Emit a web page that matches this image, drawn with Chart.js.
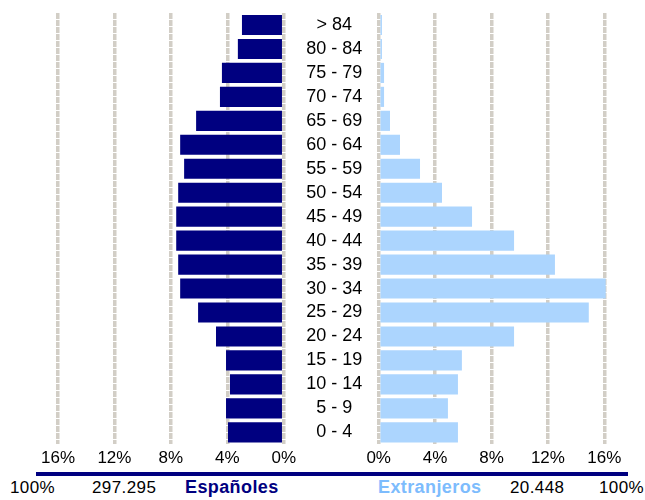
<!DOCTYPE html>
<html>
<head>
<meta charset="utf-8">
<script src="https://cdn.jsdelivr.net/npm/chart.js@4/dist/chart.umd.min.js"></script>
<style>
  html, body { margin: 0; padding: 0; background: #fff; }
  #page { position: relative; width: 645px; height: 500px; overflow: hidden; font-family: "Liberation Sans", Arial, sans-serif; }
  .box { position: absolute; top: 0; height: 470px; }
  #leftBox { left: 0; width: 300px; }
  #rightBox { left: 290px; width: 355px; }
  #rule { position: absolute; left: 36px; top: 472px; width: 592px; height: 4px; background: #000080; }
  .foot { position: absolute; top: 478px; line-height: 20px; font-size: 17px; color: #000; white-space: nowrap; letter-spacing: 0.4px; }
  .foot.bold { font-weight: bold; font-size: 18px; top: 477px; letter-spacing: 0.4px; }
</style>
</head>
<body>
<div id="page">
  <div class="box" id="leftBox"><canvas id="leftChart"></canvas></div>
  <div class="box" id="rightBox"><canvas id="rightChart"></canvas></div>
  <div id="rule"></div>
  <div class="foot" id="leftPct" style="left:10px"></div>
  <div class="foot" id="leftTotal" style="left:92px"></div>
  <div class="foot bold" id="leftName" style="left:185px;color:#000080"></div>
  <div class="foot bold" id="rightName" style="left:378px;color:#7dbcfd"></div>
  <div class="foot" id="rightTotal" style="left:510px"></div>
  <div class="foot" id="rightPct" style="left:599px"></div>
</div>
<script>
// Age groups, top to bottom
const ageGroups = ["> 84", "80 - 84", "75 - 79", "70 - 74", "65 - 69", "60 - 64", "55 - 59",
  "50 - 54", "45 - 49", "40 - 44", "35 - 39", "30 - 34", "25 - 29", "20 - 24",
  "15 - 19", "10 - 14", "5 - 9", "0 - 4"]

// Share of each population (%)
const espanoles = [2.96, 3.25, 4.38, 4.52, 6.21, 7.34, 7.06, 7.48, 7.62, 7.62, 7.48, 7.34,
  6.07, 4.80, 4.09, 3.81, 4.09, 3.95]
const extranjeros = [0.23, 0.23, 0.38, 0.38, 0.8, 1.51, 2.93, 4.49, 6.62, 9.6, 12.5, 16.1,
  14.9, 9.6, 5.9, 5.62, 4.91, 5.62]

const axisMax = 16
const axisStep = 4

// Footer
const seriesNames = ["Españoles", "Extranjeros"]
const totals = ["297.295", "20.448"]
const totalPct = "100%"

const navy = "#000080"
const lightBlue = "#acd5fe"
const gridColor = "#d2cec6"
const fontFamily = "'Liberation Sans', Arial, sans-serif"
const tickFont = { family: fontFamily, size: 17 }
const ageFont = { family: fontFamily, size: 18 }

function pctTick(value) {
  return value + "%"
}

function xAxis(reverse) {
  return {
    type: "linear",
    reverse: reverse,
    min: 0,
    max: axisMax,
    ticks: { stepSize: axisStep, callback: pctTick, font: tickFont, color: "#000", padding: 4 },
    grid: { color: gridColor, lineWidth: 3.5, drawTicks: false },
    border: { display: false, dash: [6, 1] },
    afterFit: (scale) => { scale.height = 25.7 },
  }
}

// Left half: Españoles
new Chart(document.getElementById("leftChart"), {
  type: "bar",
  data: {
    labels: ageGroups,
    datasets: [
      {
        label: seriesNames[0],
        data: espanoles,
        backgroundColor: navy,
        borderWidth: 0,
        categoryPercentage: 1,
        barPercentage: 0.84,
      },
    ],
  },
  options: {
    indexAxis: "y",
    responsive: true,
    maintainAspectRatio: false,
    animation: false,
    layout: { padding: { left: 58, right: 15, top: 13, bottom: 0 } },
    scales: {
      x: xAxis(true),
      y: { display: false },
    },
    plugins: { legend: { display: false }, tooltip: { enabled: false } },
  },
})

// Right half: Extranjeros, with the age labels in the middle
new Chart(document.getElementById("rightChart"), {
  type: "bar",
  data: {
    labels: ageGroups,
    datasets: [
      {
        label: seriesNames[1],
        data: extranjeros,
        backgroundColor: lightBlue,
        borderWidth: 0,
        categoryPercentage: 1,
        barPercentage: 0.84,
        clip: false,
      },
    ],
  },
  options: {
    indexAxis: "y",
    responsive: true,
    maintainAspectRatio: false,
    animation: false,
    layout: { padding: { left: 0, right: 40.7, top: 13, bottom: 0 } },
    scales: {
      x: xAxis(false),
      y: {
        type: "category",
        position: "left",
        grid: { display: false },
        border: { display: false },
        ticks: { autoSkip: false, crossAlign: "center", padding: 8.5, font: ageFont, color: "#000" },
        afterFit: (scale) => {
          scale.width = 88.7
          // keep the plot rows aligned with the left half
          scale.paddingTop = 0
          scale.paddingBottom = 0
        },
      },
    },
    plugins: { legend: { display: false }, tooltip: { enabled: false } },
  },
})

document.getElementById("leftPct").textContent = totalPct
document.getElementById("rightPct").textContent = totalPct
document.getElementById("leftTotal").textContent = totals[0]
document.getElementById("rightTotal").textContent = totals[1]
document.getElementById("leftName").textContent = seriesNames[0]
document.getElementById("rightName").textContent = seriesNames[1]
</script>
</body>
</html>
